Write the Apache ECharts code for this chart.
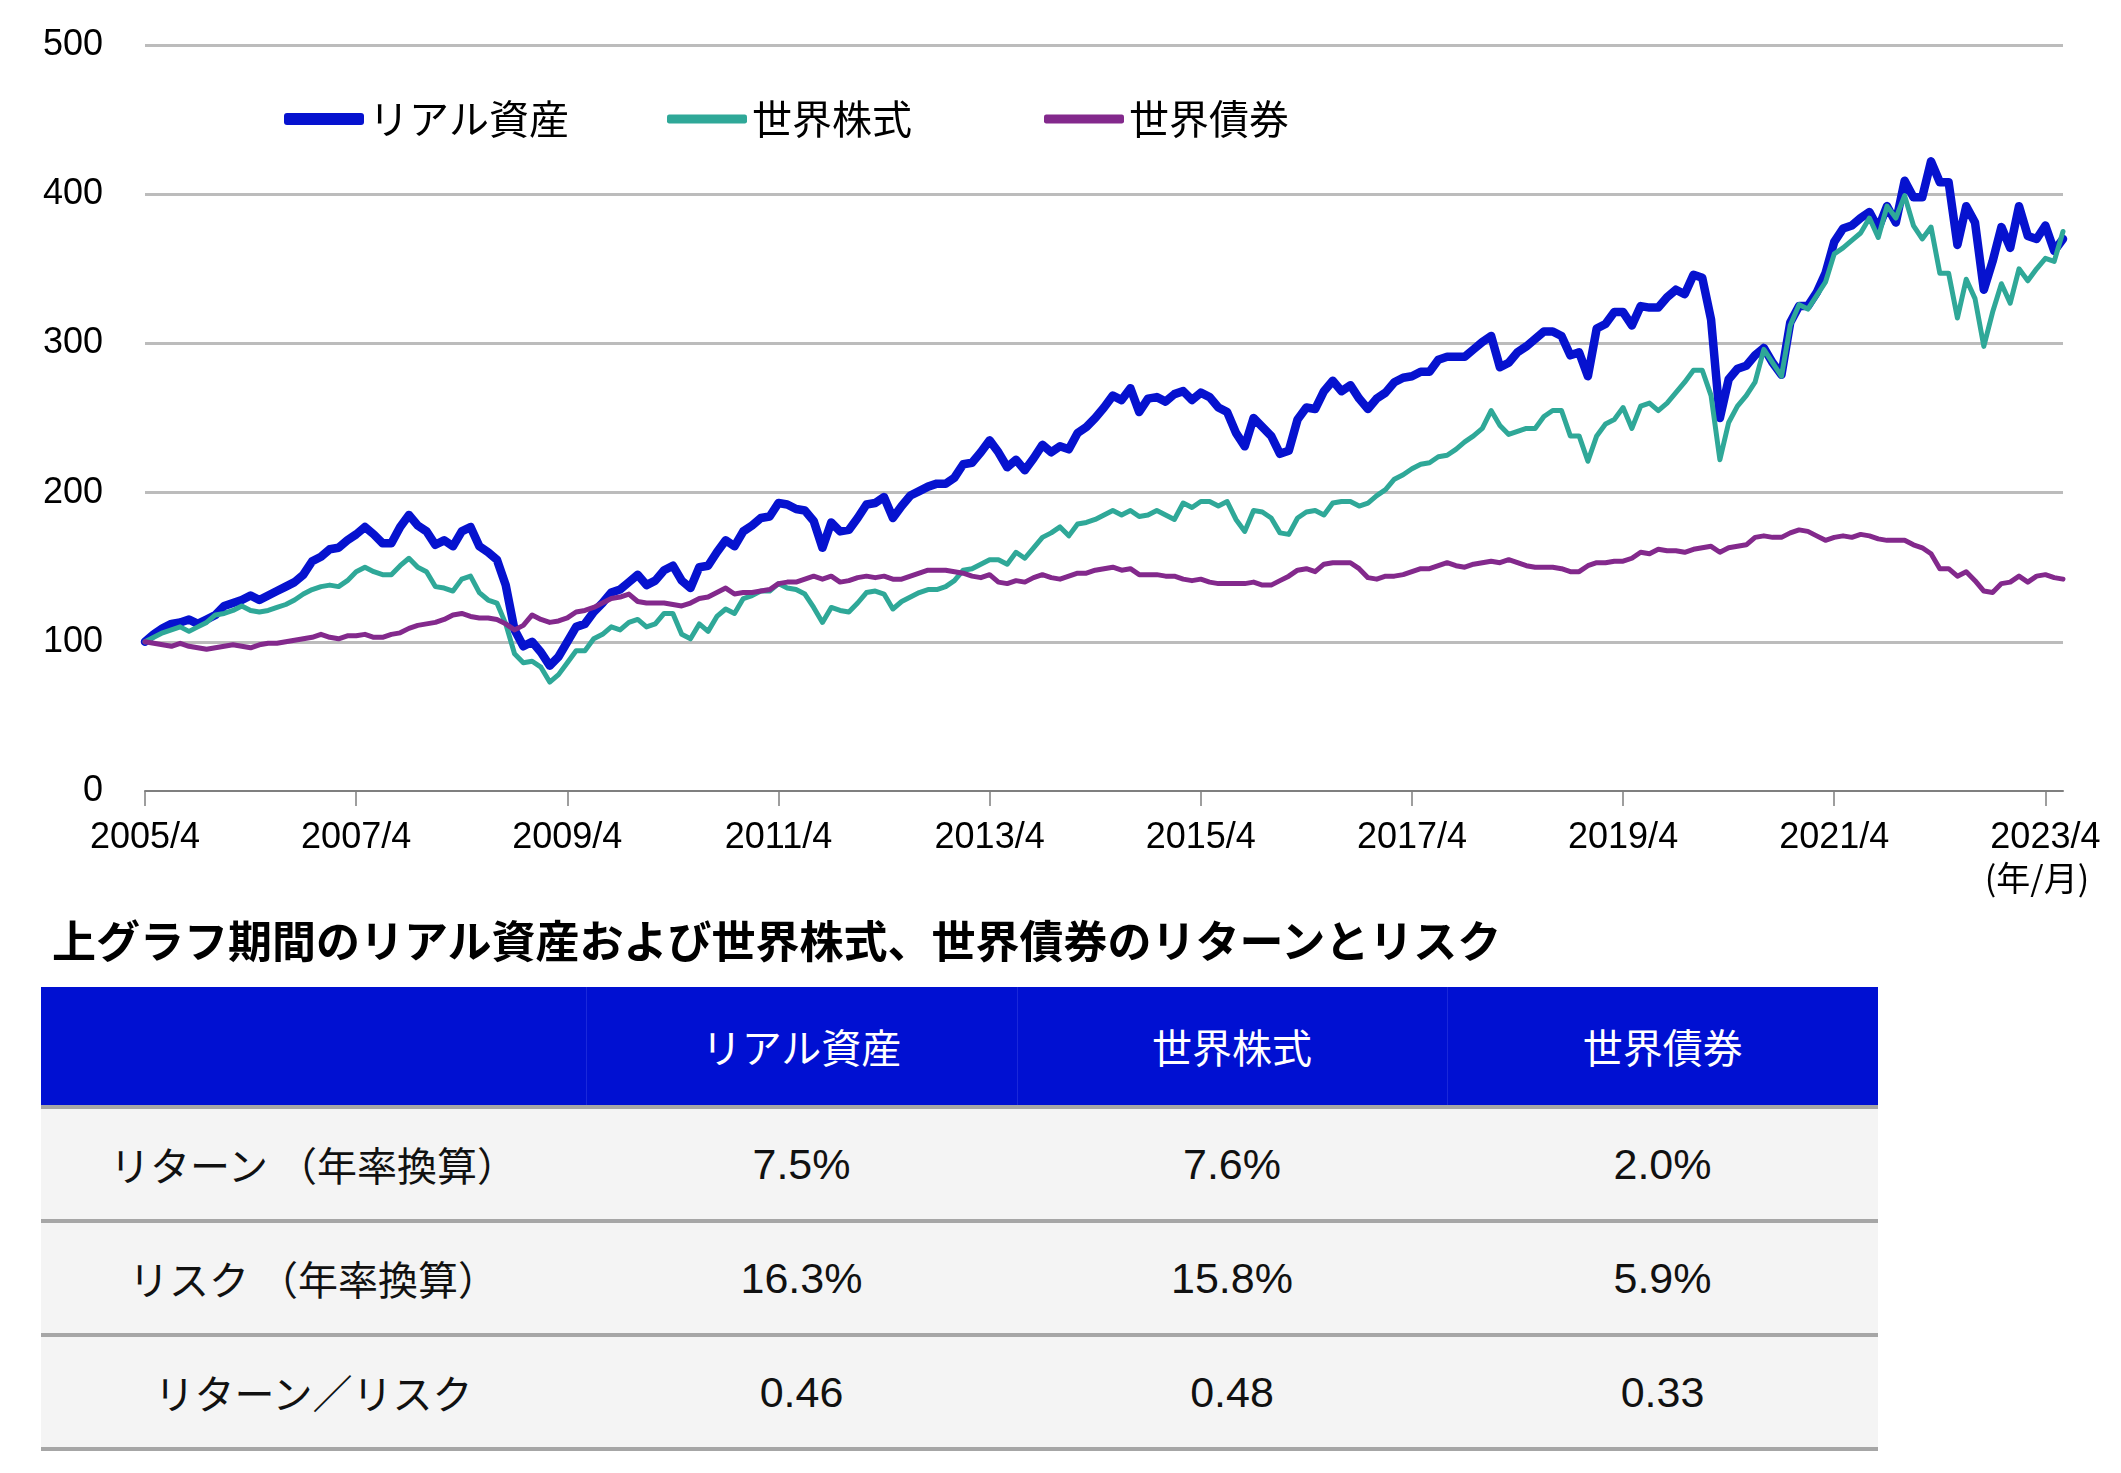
<!DOCTYPE html>
<html>
<head>
<meta charset="utf-8">
<script src="https://cdn.jsdelivr.net/npm/echarts@6/dist/echarts.min.js"></script>
<style>
  body { margin: 0; background: #fff; width: 2121px; height: 1473px; position: relative; overflow: hidden;
         font-family: "Liberation Sans", "Noto Sans CJK JP", sans-serif; color: #111; }
  #chart { position: absolute; left: 0; top: 0; width: 2121px; height: 910px; }
  #title { position: absolute; left: 52px; top: 907px; font-size: 44px; font-weight: bold; color: #000;
           font-family: "Noto Sans CJK JP", sans-serif; white-space: nowrap; }
  #tbl { position: absolute; left: 41px; top: 987px; width: 1837px; border-collapse: collapse; table-layout: fixed; }
  #tbl th { background: #0010d2; color: #fff; height: 118px; font-weight: normal; font-size: 40px;
            font-family: "Noto Sans CJK JP", sans-serif; border-bottom: 4px solid #a6a6a6; padding: 0; }
  #tbl th + th { border-left: 1px solid #1a28da; }
  #tbl td { background: #f4f4f4; height: 110px; text-align: center; border-bottom: 4px solid #a6a6a6; padding: 0; }
  #tbl td.lbl { font-size: 40px; font-family: "Noto Sans CJK JP", sans-serif; }
  #tbl td.num { font-size: 43px; font-family: "Liberation Sans", Arial, sans-serif; }
</style>
</head>
<body>
<div id="chart"></div>
<div id="title">上グラフ期間のリアル資産および世界株式、世界債券のリターンとリスク</div>
<table id="tbl">
  <colgroup><col style="width:545px"><col style="width:431px"><col style="width:430px"><col style="width:431px"></colgroup>
  <thead><tr id="headRow"></tr></thead>
  <tbody id="bodyRows"></tbody>
</table>
<script>
// 系列名・色
var seriesNames = ['リアル資産', '世界株式', '世界債券'];
var seriesColors = ['#0612cf', '#2fa898', '#83298c'];
var seriesWidths = [8.5, 5, 5];
var legendLefts = [284, 667, 1044];

// 月次データ（2005/4 = 100、2005/4 ～ 2023/6）
var startYear = 2005;
var startMonth = 4;
var tickLabels = ['2005/4','2007/4','2009/4','2011/4','2013/4','2015/4','2017/4','2019/4','2021/4','2023/4'];
var yTicks = [0, 100, 200, 300, 400, 500];

var realAsset = [
  100,105,109,112,113,115,112,115,118,124,126,128,
  131,128,131,134,137,140,145,154,157,162,163,168,
  172,177,172,166,166,177,185,178,174,165,168,164,
  174,177,164,160,155,138,108,97,100,93,84,90,
  100,110,112,120,126,133,135,140,145,138,141,148,
  151,141,136,150,151,160,168,164,174,178,183,184,
  193,192,189,188,181,163,180,174,175,183,192,193,
  197,183,191,198,201,204,206,206,210,219,220,227,
  235,227,217,222,215,223,232,227,231,229,240,244,
  250,257,265,262,270,254,263,264,261,266,268,262,
  267,264,257,254,240,231,250,244,238,226,228,249,
  257,256,268,275,268,272,263,256,263,267,274,277,
  278,281,281,289,291,291,291,296,301,305,284,287,
  294,298,303,308,308,305,292,294,278,310,313,321,
  321,312,325,324,324,331,336,333,346,344,316,250,
  276,283,285,292,297,287,279,314,325,325,334,347,
  368,377,379,384,388,377,392,381,409,398,398,422,
  408,408,366,392,381,336,355,378,364,392,372,370,
  379,362,370
];
var worldStock = [
  100,103,106,108,110,107,110,113,118,119,121,124,
  121,120,121,123,125,128,132,135,137,138,137,141,
  147,150,147,145,145,151,156,150,147,137,136,134,
  142,144,133,128,126,112,92,86,87,83,73,78,
  86,94,94,102,105,110,108,113,115,110,112,119,
  119,105,102,112,107,117,122,119,129,131,134,134,
  139,136,135,132,123,113,123,121,120,126,133,134,
  132,122,127,130,133,135,135,137,141,148,149,152,
  155,155,152,160,156,163,170,173,177,171,179,180,
  182,185,188,185,188,184,185,188,185,182,193,190,
  194,194,191,194,182,174,188,187,183,173,172,183,
  187,188,185,193,194,194,191,193,198,202,209,212,
  216,219,220,224,225,229,234,238,243,255,245,239,
  241,243,243,251,255,255,238,238,221,238,246,249,
  257,243,258,260,255,260,267,274,282,282,265,222,
  247,258,265,274,296,287,278,312,326,323,332,341,
  360,364,369,374,384,371,392,384,399,379,370,378,
  347,347,317,343,330,298,321,340,327,350,342,350,
  357,355,375
];
var worldBond = [
  100,99,98,97,99,97,96,95,96,97,98,97,
  96,98,99,99,100,101,102,103,105,103,102,104,
  104,105,103,103,105,106,109,111,112,113,115,118,
  119,117,116,116,115,112,108,111,118,115,113,114,
  116,120,121,123,126,129,130,132,127,126,126,126,
  125,124,126,129,130,133,136,132,133,133,134,135,
  139,140,140,142,144,142,144,140,141,143,144,143,
  144,142,142,144,146,148,148,148,147,146,144,143,
  145,140,139,141,140,143,145,143,142,144,146,146,
  148,149,150,148,149,145,145,145,144,144,142,141,
  142,140,139,139,139,139,140,138,138,141,144,148,
  149,147,152,153,153,153,149,143,142,144,144,145,
  147,149,149,151,153,151,150,152,153,154,153,155,
  153,151,150,150,150,149,147,147,151,153,153,154,
  154,156,160,159,162,161,161,160,162,163,164,160,
  163,164,165,170,171,170,170,173,175,174,171,168,
  170,171,170,172,171,169,168,168,168,165,163,159,
  149,149,144,147,141,134,133,139,140,144,140,144,
  145,143,142
];

// 表データ
var tableCols = ['', 'リアル資産', '世界株式', '世界債券'];
var tableRowLabels = ['リターン （年率換算）', 'リスク （年率換算）', 'リターン／リスク'];
var tableReturn = ['7.5%', '7.6%', '2.0%'];
var tableRisk = ['16.3%', '15.8%', '5.9%'];
var tableRatio = ['0.46', '0.48', '0.33'];

// 月ラベル作成
var months = [];
for (var i = 0; i < realAsset.length; i++) {
  var t = startMonth - 1 + i;
  months.push((startYear + Math.floor(t / 12)) + '/' + (t % 12 + 1));
}

//绘图
var chart = echarts.init(document.getElementById('chart'), null, { renderer: 'canvas' });
var allData = [realAsset, worldStock, worldBond];
var series = [];
var legends = [];
for (var s = 0; s < allData.length; s++) {
  series.push({
    name: seriesNames[s],
    type: 'line',
    data: allData[s],
    symbol: 'none',
    z: 2 + s,
    lineStyle: { color: seriesColors[s], width: seriesWidths[s], join: 'round', cap: 'round' },
    itemStyle: { color: seriesColors[s] }
  });
  // 凡例は個別に配置
  legends.push({
    data: [seriesNames[s]],
    left: legendLefts[s],
    top: 99,
    icon: 'roundRect',
    itemWidth: 80,
    itemHeight: s === 0 ? 12 : 9,
    padding: 0,
    textStyle: { fontSize: 40, color: '#000', fontFamily: '"Noto Sans CJK JP", sans-serif' }
  });
}

var option = {
  animation: false,
  textStyle: { fontFamily: '"Liberation Sans", "Noto Sans CJK JP", sans-serif' },
  legend: legends,
  grid: { left: 145, top: 45, width: 1918, height: 746, containLabel: false },
  xAxis: {
    type: 'category',
    data: months,
    boundaryGap: false,
    axisLine: { lineStyle: { color: '#7f7f7f', width: 2 } },
    axisTick: {
      interval: function (idx) { return tickLabels.indexOf(months[idx]) >= 0; },
      length: 15, lineStyle: { color: '#7f7f7f', width: 1.5 }
    },
    axisLabel: {
      interval: function (idx) { return tickLabels.indexOf(months[idx]) >= 0; },
      fontSize: 36, color: '#000', margin: 29
    },
    splitLine: { show: false }
  },
  yAxis: {
    type: 'value',
    min: yTicks[0],
    max: yTicks[yTicks.length - 1],
    interval: 100,
    axisLine: { show: false },
    axisTick: { show: false },
    axisLabel: { fontSize: 36, color: '#000', margin: 42 },
    splitLine: { showMinLine: false, lineStyle: { color: '#bcbcbc', width: 3 } }
  },
  graphic: [{
    type: 'text',
    x: 2037,
    y: 878,
    style: { text: '(年/月)', fontSize: 34, fill: '#000', align: 'center', verticalAlign: 'middle',
             fontFamily: '"Noto Sans CJK JP", sans-serif' }
  }],
  series: series
};
chart.setOption(option);

// 表作成
var head = '';
for (var c = 0; c < tableCols.length; c++) {
  head += '<th>' + tableCols[c] + '</th>';
}
document.getElementById('headRow').innerHTML = head;

var rowValues = [tableReturn, tableRisk, tableRatio];
var html = '';
for (var r = 0; r < tableRowLabels.length; r++) {
  html += '<tr>';
  html += '<td class="lbl">' + tableRowLabels[r] + '</td>';
  for (var k = 0; k < rowValues[r].length; k++) {
    html += '<td class="num">' + rowValues[r][k] + '</td>';
  }
  html += '</tr>';
}
document.getElementById('bodyRows').innerHTML = html;
</script>
</body>
</html>
